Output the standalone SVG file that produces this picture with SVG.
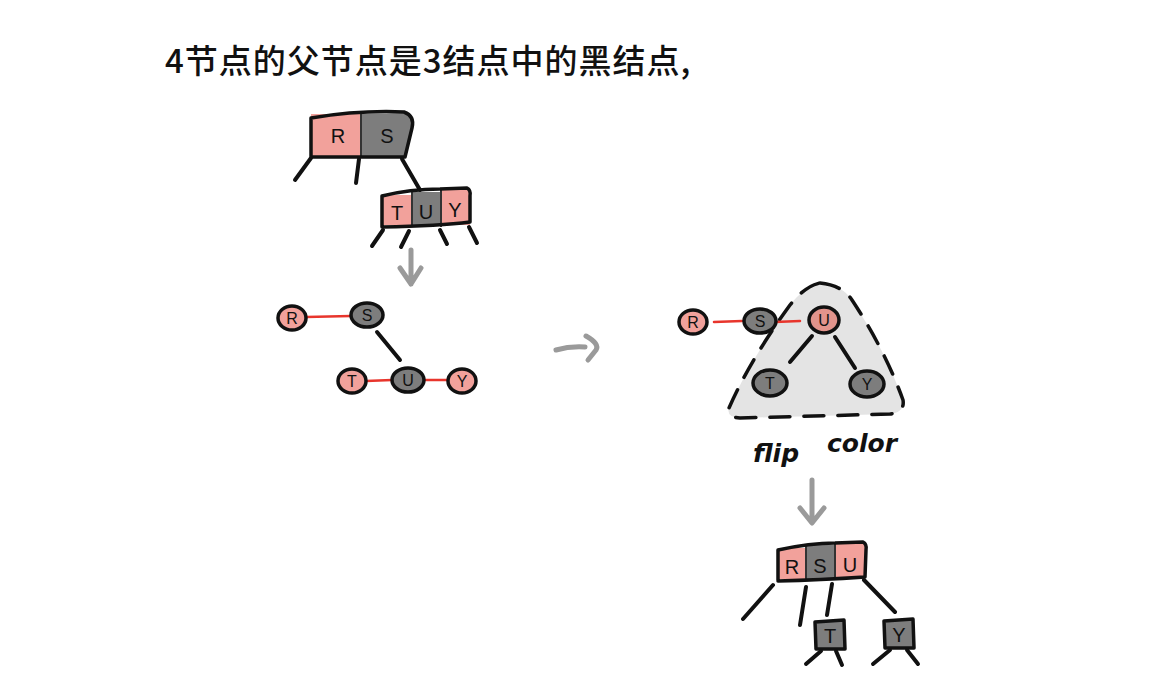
<svg xmlns="http://www.w3.org/2000/svg" width="1154" height="698" viewBox="0 0 1154 698">
<style>
.pk{fill:#f2a19b}
.gy{fill:#7d7d7d}
.ol{fill:none;stroke:#111;stroke-width:3.5;stroke-linecap:round;stroke-linejoin:round}
.ln{fill:none;stroke:#111;stroke-width:4;stroke-linecap:round}
.rl{fill:none;stroke:#e8352c;stroke-width:2.5;stroke-linecap:round}
.arr{fill:none;stroke:#9a9a9a;stroke-width:5;stroke-linecap:round;stroke-linejoin:round}
.lbl{font-family:"Liberation Sans",sans-serif;font-size:20px;fill:#111;text-anchor:middle}
.nl{font-family:"Liberation Sans",sans-serif;font-size:16px;fill:#111;text-anchor:middle}
.dv{stroke:#333;stroke-width:2}
</style>
<rect width="1154" height="698" fill="#fff"/>
<text x="165" y="73" font-family="Noto Sans CJK SC, sans-serif" font-size="33" font-weight="500" letter-spacing="1" fill="#111">4节点的父节点是3结点中的黑结点,</text>

<g id="top-rs">
<rect class="pk" x="311" y="114" width="50" height="42"/>
<path class="gy" d="M361 114 L405 113 Q414 116 412 126 L406 156 L361 156 Z"/>
<line class="dv" x1="361" y1="114" x2="361" y2="156"/>
<path class="ol" d="M311 156 L311 118 Q360 110 404 112 Q415 116 412 128 L405 157 L311 157"/>
<text class="lbl" x="338" y="143">R</text>
<text class="lbl" x="387" y="143">S</text>
<path class="ln" d="M311 158 L295 180 M359 159 L356 183 M402 159 L420 190"/>
</g>

<g id="top-tuy">
<rect class="pk" x="382" y="195" width="30" height="30"/>
<rect class="gy" x="412" y="192" width="29" height="33"/>
<rect class="pk" x="441" y="189" width="29" height="36"/>
<line class="dv" x1="412" y1="192" x2="412" y2="227"/>
<line class="dv" x1="441" y1="190" x2="441" y2="227"/>
<path class="ol" d="M382 227 L382 196 Q410 189 440 189 L467 188 Q471 190 470 196 L470 222 Q440 226 382 227"/>
<text class="lbl" x="397" y="220">T</text>
<text class="lbl" x="426" y="219">U</text>
<text class="lbl" x="455" y="217">Y</text>
<path class="ln" d="M383 230 L372 246 M409 231 L401 247 M440 230 L447 244 M469 227 L477 243"/>
</g>

<g id="connectors">
<path class="arr" d="M411 250 L411 284 M400 268 L411 284 L421 268"/>
<path class="arr" d="M556 350 Q570 346 585 347 M586 336 Q600 344 596 350 L588 360"/>
<path class="arr" d="M812 480 L812 522 M800 508 L812 523 L824 508"/>
<line class="rl" x1="306" y1="317" x2="351" y2="316"/>
<path class="ln" d="M377 332 L400 360"/>
<line class="rl" x1="366" y1="381" x2="392" y2="380"/>
<line class="rl" x1="424" y1="380" x2="448" y2="380"/>
</g>

<g id="mid-R"><ellipse class="pk" cx="292" cy="318" rx="14" ry="12"/><ellipse class="ol" cx="292" cy="318" rx="14" ry="12"/><text class="nl" x="292" y="324">R</text></g>
<g id="mid-S"><ellipse class="gy" cx="367" cy="315" rx="16" ry="12"/><ellipse class="ol" cx="367" cy="315" rx="16" ry="12"/><text class="nl" x="367" y="321">S</text></g>
<g id="mid-T"><ellipse class="pk" cx="352" cy="381" rx="14" ry="12"/><ellipse class="ol" cx="352" cy="381" rx="14" ry="12"/><text class="nl" x="352" y="387">T</text></g>
<g id="mid-U"><ellipse class="gy" cx="408" cy="380" rx="16" ry="12"/><ellipse class="ol" cx="408" cy="380" rx="16" ry="12"/><text class="nl" x="408" y="386">U</text></g>
<g id="mid-Y"><ellipse class="pk" cx="462" cy="381" rx="14" ry="12"/><ellipse class="ol" cx="462" cy="381" rx="14" ry="12"/><text class="nl" x="462" y="387">Y</text></g>

<g id="triangle">
<path d="M820 283 Q842 285 852 300 Q885 350 903 400 Q905 412 890 414 L740 418 Q726 417 729 408 Q750 360 790 305 Q805 286 820 283 Z" fill="#e4e4e4"/>
<path d="M820 283 Q842 285 852 300 Q885 350 903 400 Q905 412 890 414 L740 418 Q726 417 729 408 Q750 360 790 305 Q805 286 820 283 Z" fill="none" stroke="#111" stroke-width="3.5" stroke-linecap="round" stroke-dasharray="20 14"/>
</g>

<g id="connectors-right">
<line class="rl" x1="714" y1="322" x2="742" y2="321"/>
<line class="rl" x1="775" y1="322" x2="800" y2="321"/>
<path class="ln" d="M812 336 L790 362 M835 337 L855 368"/>
</g>

<g id="r-R"><ellipse class="pk" cx="693" cy="322" rx="14" ry="12"/><ellipse class="ol" cx="693" cy="322" rx="14" ry="12"/><text class="nl" x="693" y="328">R</text></g>
<g id="r-S"><ellipse class="gy" cx="760" cy="321" rx="16" ry="12"/><ellipse class="ol" cx="760" cy="321" rx="16" ry="12"/><text class="nl" x="760" y="327">S</text></g>
<g id="r-U"><ellipse fill="#e2948c" cx="824" cy="320" rx="15" ry="13"/><ellipse class="ol" cx="824" cy="320" rx="15" ry="13"/><text class="nl" x="824" y="326">U</text></g>
<g id="r-T"><ellipse class="gy" cx="770" cy="383" rx="17" ry="13"/><ellipse class="ol" cx="770" cy="383" rx="17" ry="13"/><text class="nl" x="770" y="389">T</text></g>
<g id="r-Y"><ellipse class="gy" cx="867" cy="384" rx="17" ry="13"/><ellipse class="ol" cx="867" cy="384" rx="17" ry="13"/><text class="nl" x="867" y="390">Y</text></g>

<text x="776" y="462" font-family="DejaVu Sans, sans-serif" font-style="italic" font-weight="bold" font-size="25" fill="#111" text-anchor="middle">flip</text>
<text x="862" y="452" font-family="DejaVu Sans, sans-serif" font-style="italic" font-weight="bold" font-size="25" fill="#111" text-anchor="middle">color</text>

<g id="bot-rsu">
<rect class="pk" x="778" y="548" width="28" height="31"/>
<rect class="gy" x="806" y="545" width="29" height="34"/>
<rect class="pk" x="835" y="543" width="30" height="36"/>
<line class="dv" x1="806" y1="546" x2="806" y2="580"/>
<line class="dv" x1="835" y1="544" x2="835" y2="580"/>
<path class="ol" d="M778 580 L778 550 Q810 543 835 543 L863 542 Q867 544 866 550 L865 577 Q820 580 778 581"/>
<text class="lbl" x="792" y="574">R</text>
<text class="lbl" x="820" y="573">S</text>
<text class="lbl" x="850" y="572">U</text>
<path class="ln" d="M773 585 L743 619 M806 587 L800 625 M832 584 L827 615 M864 580 L895 612"/>
</g>

<g id="bot-T">
<rect class="gy" x="815" y="621" width="30" height="28"/>
<path class="ol" d="M815 622 L844 620 L845 649 L816 649 Z"/>
<text class="lbl" x="830" y="643">T</text>
<path class="ln" d="M821 651 L806 664 M836 651 L842 665"/>
</g>

<g id="bot-Y">
<rect class="gy" x="884" y="620" width="30" height="28"/>
<path class="ol" d="M884 621 L913 619 L914 648 L885 648 Z"/>
<text class="lbl" x="899" y="642">Y</text>
<path class="ln" d="M890 650 L873 664 M907 650 L918 664"/>
</g>
</svg>
